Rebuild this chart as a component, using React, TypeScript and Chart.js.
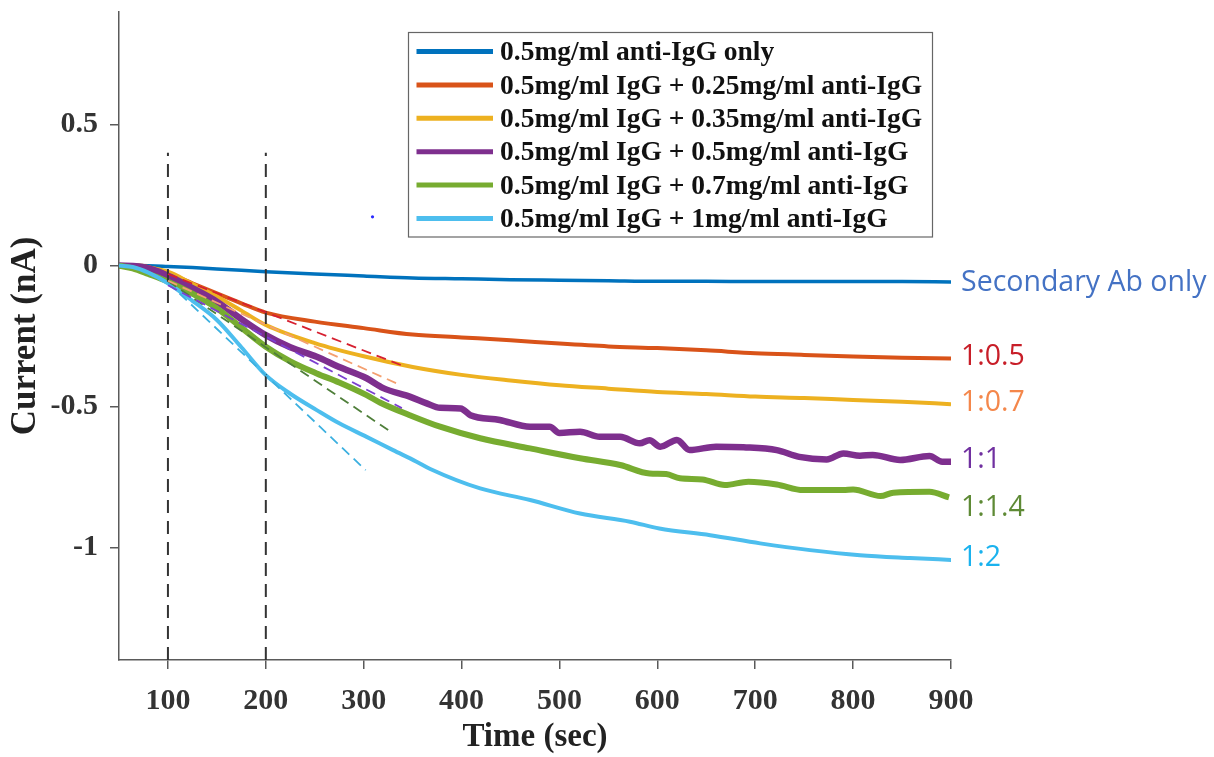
import { useEffect, useRef } from 'react';
import { Chart, registerables } from 'chart.js';

Chart.register(...registerables);

// ---------- data ----------
const seriesLabels = [
  '0.5mg/ml anti-IgG only',
  '0.5mg/ml IgG + 0.25mg/ml anti-IgG',
  '0.5mg/ml IgG + 0.35mg/ml anti-IgG',
  '0.5mg/ml IgG + 0.5mg/ml anti-IgG',
  '0.5mg/ml IgG + 0.7mg/ml anti-IgG',
  '0.5mg/ml IgG + 1mg/ml anti-IgG',
];
const seriesColors = ['#0072BD', '#D95319', '#EDB120', '#7E2F8E', '#77AC30', '#4DBEEE'];
const seriesWidths = [3.5, 4, 4, 6.5, 6, 4];

const tAntiOnly = [50, 70, 100, 125, 150, 175, 200, 250, 300, 350, 400, 450, 500, 550, 600, 650, 700, 750, 800, 850, 900];
const iAntiOnly = [0, 0, -0.003, -0.007, -0.012, -0.017, -0.022, -0.03, -0.037, -0.044, -0.047, -0.05, -0.052, -0.054, -0.056, -0.056, -0.057, -0.057, -0.057, -0.057, -0.058];

const tIgG025 = [50, 70, 100, 125, 150, 175, 200, 250, 300, 350, 400, 450, 500, 550, 600, 650, 700, 750, 800, 850, 900];
const iIgG025 = [0, 0, -0.028, -0.063, -0.099, -0.134, -0.167, -0.199, -0.222, -0.245, -0.255, -0.265, -0.277, -0.287, -0.293, -0.301, -0.311, -0.317, -0.323, -0.327, -0.33];

const tIgG035 = [50, 70, 100, 125, 150, 175, 200, 250, 300, 350, 400, 450, 500, 550, 600, 650, 700, 750, 800, 850, 900];
const iIgG035 = [0, -0.002, -0.022, -0.065, -0.11, -0.16, -0.211, -0.275, -0.322, -0.36, -0.388, -0.408, -0.425, -0.437, -0.449, -0.456, -0.465, -0.47, -0.477, -0.483, -0.492];

const tIgG05 = [50, 70, 82, 100, 125, 150, 175, 200, 225, 252, 275, 303, 320, 347, 365, 378, 399, 409, 439, 470, 490, 500, 521, 541, 562, 582, 592, 603, 620, 633, 660, 688, 722, 745, 773, 790, 807, 820, 848, 878, 891, 902];
const iIgG05 = [0, -0.003, -0.012, -0.036, -0.08, -0.128, -0.19, -0.247, -0.29, -0.324, -0.36, -0.4, -0.435, -0.465, -0.49, -0.505, -0.507, -0.531, -0.548, -0.572, -0.572, -0.594, -0.59, -0.608, -0.608, -0.631, -0.62, -0.643, -0.619, -0.655, -0.643, -0.645, -0.655, -0.679, -0.688, -0.667, -0.675, -0.672, -0.69, -0.676, -0.696, -0.696];

const tIgG07 = [50, 64, 80, 100, 125, 150, 175, 200, 225, 252, 275, 303, 317, 347, 378, 419, 470, 521, 562, 592, 609, 623, 646, 669, 693, 722, 749, 790, 800, 828, 841, 878, 898];
const iIgG07 = [0, -0.01, -0.03, -0.057, -0.1, -0.152, -0.22, -0.288, -0.34, -0.383, -0.415, -0.46, -0.487, -0.531, -0.572, -0.613, -0.649, -0.684, -0.708, -0.738, -0.74, -0.755, -0.759, -0.779, -0.767, -0.777, -0.797, -0.797, -0.795, -0.818, -0.806, -0.803, -0.823];

const tIgG1 = [50, 64, 80, 100, 125, 150, 175, 200, 225, 252, 275, 303, 330, 354, 368, 419, 470, 521, 572, 602, 654, 705, 756, 807, 858, 902];
const iIgG1 = [0, -0.005, -0.025, -0.063, -0.125, -0.193, -0.29, -0.389, -0.455, -0.513, -0.56, -0.608, -0.655, -0.696, -0.722, -0.791, -0.832, -0.88, -0.909, -0.933, -0.957, -0.986, -1.01, -1.028, -1.038, -1.045];

const seriesTimes = [tAntiOnly, tIgG025, tIgG035, tIgG05, tIgG07, tIgG1];
const seriesCurrents = [iAntiOnly, iIgG025, iIgG035, iIgG05, iIgG07, iIgG1];
const seriesOrder = [6, 5, 4, 3, 2, 1];

// initial-slope (tangent) dashed lines
const tangentColors = ['#D62030', '#F4A070', '#7B3FD0', '#4F7F3A', '#3CB0E0'];
const tangentT0 = [100, 100, 100, 100, 100];
const tangentI0 = [-0.03, -0.054, -0.07, -0.055, -0.06];
const tangentT1 = [343, 338, 339, 325, 302];
const tangentI1 = [-0.36, -0.425, -0.506, -0.584, -0.726];

// vertical dashed markers
const markerTimes = [100, 200];
const markerTop = 0.4;

// stray point
const strayT = [309];
const strayI = [0.173];

// ratio annotations on the right
const ratioLabels = ['Secondary Ab only', '1:0.5', '1:0.7', '1:1', '1:1.4', '1:2'];
const ratioColors = ['#4472C4', '#C81E28', '#F4874B', '#7030A0', '#5E8A35', '#1AB2EE'];
const ratioAnchor = [-0.062, -0.324, -0.489, -0.69, -0.861, -1.039];

const xTickValues = [100, 200, 300, 400, 500, 600, 700, 800, 900];
const yTickValues = [-1, -0.5, 0, 0.5];
const xMin = 50, xMax = 900, yMin = -1.4, yMax = 0.9;

const serif = '"Liberation Serif", "Times New Roman", serif';
const axisColor = '#5a5a5a';

const pts = (t: number[], v: number[]) => t.map((x, k) => ({ x, y: v[k] }));

const legendPlugin = {
  id: 'boxLegend',
  afterDatasetsDraw(chart: any) {
    const ctx = chart.ctx as CanvasRenderingContext2D;
    ctx.save();
    const bx = 408.5, by = 32.5, bw = 524, bh = 204.5;
    ctx.fillStyle = '#ffffff';
    ctx.fillRect(bx, by, bw, bh);
    ctx.strokeStyle = '#666666';
    ctx.lineWidth = 1.2;
    ctx.strokeRect(bx, by, bw, bh);
    ctx.font = `bold 27.5px ${serif}`;
    ctx.textBaseline = 'middle';
    ctx.textAlign = 'left';
    seriesLabels.forEach((lab, k) => {
      const y = 53 + k * 33.4;
      ctx.strokeStyle = seriesColors[k];
      ctx.lineWidth = 5;
      ctx.lineCap = 'butt';
      ctx.beginPath();
      ctx.moveTo(416.5, y - 1.5);
      ctx.lineTo(493, y - 1.5);
      ctx.stroke();
      ctx.fillStyle = '#111111';
      ctx.fillText(lab, 500, y);
    });
    ctx.restore();
  },
};

const ratioPlugin = {
  id: 'ratioLabels',
  afterDatasetsDraw(chart: any) {
    const ctx = chart.ctx as CanvasRenderingContext2D;
    const ys = chart.scales.y;
    ctx.save();
    ctx.font = '28.5px "Open Sans", sans-serif';
    ctx.textBaseline = 'middle';
    ctx.textAlign = 'left';
    ratioLabels.forEach((t, k) => {
      ctx.fillStyle = ratioColors[k];
      ctx.fillText(t, chart.chartArea.right + 10, ys.getPixelForValue(ratioAnchor[k]));
    });
    ctx.restore();
  },
};

export default function App() {
  const ref = useRef<HTMLCanvasElement | null>(null);

  useEffect(() => {
    if (!ref.current) return;
    const datasets: any[] = [];

    seriesLabels.forEach((lab, k) => {
      datasets.push({
        label: lab,
        data: pts(seriesTimes[k], seriesCurrents[k]),
        borderColor: seriesColors[k],
        backgroundColor: seriesColors[k],
        borderWidth: seriesWidths[k],
        pointRadius: 0,
        cubicInterpolationMode: 'monotone',
        fill: false,
        order: seriesOrder[k],
      });
    });

    tangentColors.forEach((c, k) => {
      datasets.push({
        label: 'tangent ' + k,
        data: [
          { x: tangentT0[k], y: tangentI0[k] },
          { x: tangentT1[k], y: tangentI1[k] },
        ],
        borderColor: c,
        borderWidth: 1.8,
        borderDash: [10, 6],
        pointRadius: 0,
        fill: false,
        order: 0,
      });
    });

    markerTimes.forEach((t) => {
      datasets.push({
        label: 'marker ' + t,
        data: [
          { x: t, y: yMin },
          { x: t, y: markerTop },
        ],
        borderColor: '#333333',
        borderWidth: 2,
        borderDash: [13, 8],
        pointRadius: 0,
        fill: false,
        order: 0,
      });
    });

    datasets.push({
      label: 'stray',
      data: pts(strayT, strayI),
      showLine: false,
      pointRadius: 1.6,
      pointBorderWidth: 0,
      pointBackgroundColor: '#2a2aff',
      borderColor: '#2a2aff',
      order: 0,
    });

    const chart = new Chart(ref.current, {
      type: 'line',
      data: { datasets },
      options: {
        animation: false,
        responsive: false,
        devicePixelRatio: 1,
        layout: { padding: { top: 12, right: 263, left: 0, bottom: 0 } },
        plugins: { legend: { display: false }, tooltip: { enabled: false } },
        scales: {
          x: {
            type: 'linear',
            min: xMin,
            max: xMax,
            afterBuildTicks: (s: any) => {
              s.ticks = xTickValues.map((v) => ({ value: v }));
            },
            afterFit: (s: any) => {
              s.height = 97;
              s.paddingLeft = 0;
              s.paddingRight = 0;
            },
            grid: { display: true, drawOnChartArea: false, drawTicks: true, tickLength: 9, color: axisColor, lineWidth: 1.5 },
            border: { display: true, color: axisColor, width: 1.5 },
            ticks: {
              autoSkip: false,
              maxRotation: 0,
              padding: 14,
              color: '#333333',
              font: { family: serif, weight: 'bold', size: 30 },
              callback: (v: any) => String(v),
            },
            title: {
              display: true,
              text: 'Time (sec)',
              color: '#222222',
              font: { family: serif, weight: 'bold', size: 33 },
              padding: { top: 0, bottom: 0 },
            },
          },
          y: {
            type: 'linear',
            min: yMin,
            max: yMax,
            afterBuildTicks: (s: any) => {
              s.ticks = yTickValues.map((v) => ({ value: v }));
            },
            afterFit: (s: any) => {
              s.width = 119;
              s.paddingTop = 0;
              s.paddingBottom = 0;
            },
            grid: { display: true, drawOnChartArea: false, drawTicks: true, tickLength: 9, color: axisColor, lineWidth: 1.5 },
            border: { display: true, color: axisColor, width: 1.5 },
            ticks: {
              autoSkip: false,
              padding: 12,
              color: '#333333',
              font: { family: serif, weight: 'bold', size: 30 },
              callback: (v: any) => String(v),
            },
            title: {
              display: true,
              text: 'Current (nA)',
              color: '#222222',
              font: { family: serif, weight: 'bold', size: 35 },
              padding: { top: 5, bottom: 0 },
            },
          },
        },
      } as any,
      plugins: [legendPlugin, ratioPlugin],
    });

    return () => chart.destroy();
  }, []);

  return (
    <div style={{ position: 'fixed', left: 0, top: 0, width: 1214, height: 757, background: '#ffffff' }}>
      <canvas ref={ref} width={1214} height={757} style={{ display: 'block', width: 1214, height: 757 }} />
    </div>
  );
}
